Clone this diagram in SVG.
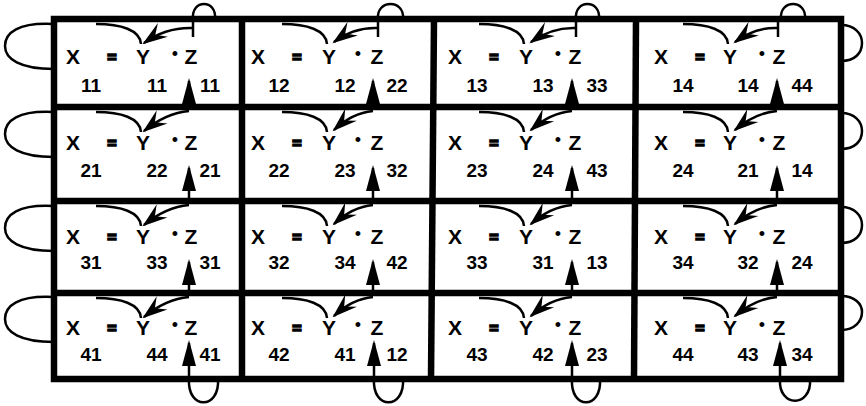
<svg xmlns="http://www.w3.org/2000/svg" width="866" height="406" viewBox="0 0 866 406">
<style>
.t{font-family:"Liberation Sans",Arial,sans-serif;font-weight:bold;font-size:21px;fill:#000;text-anchor:middle}
.s{font-family:"Liberation Sans",Arial,sans-serif;font-weight:bold;font-size:19px;fill:#000;text-anchor:middle}
.eq{font-size:16px;stroke:#000;stroke-width:1.6}
.d{font-family:"Liberation Sans",Arial,sans-serif;font-size:18px;fill:#000;text-anchor:middle}
.g{fill:none;stroke:#000;stroke-width:6.5}
.c{fill:none;stroke:#000;stroke-width:2.5}
.ya{marker-end:url(#ya)}
.ua{marker-end:url(#ua)}
</style>
<defs>
<marker id="ya" markerUnits="userSpaceOnUse" viewBox="-27 -10 30 20" markerWidth="30" markerHeight="20" refX="-2" refY="0" orient="auto">
<path d="M0,0 L-25,-9 L-16,0 L-25,8 Z" fill="#000"/>
</marker>
<marker id="ua" markerUnits="userSpaceOnUse" viewBox="-27 -8 30 16" markerWidth="30" markerHeight="16" refX="-3" refY="0" orient="auto">
<path d="M0,0 L-26,-7 L-26,7 Z" fill="#000"/>
</marker>
</defs>
<rect x="0" y="0" width="866" height="406" fill="#fff"/>
<g id="grid">
<rect class="g" x="54" y="19" width="787" height="360"/>
<line class="g" x1="242" y1="19" x2="242" y2="379"/>
<line class="g" x1="434" y1="19" x2="431" y2="379"/>
<line class="g" x1="636" y1="19" x2="634" y2="379"/>
<line class="g" x1="54" y1="107" x2="841" y2="107"/>
<line class="g" x1="54" y1="201" x2="841" y2="201"/>
<line class="g" x1="54" y1="293" x2="841" y2="293"/>
</g>
<g id="connectors">
<!-- left loops -->
<path class="c" d="M54,24 C18,22 5,33 5,46 C5,59 20,69 54,69"/>
<path class="c" d="M54,112 C18,110 5,121 5,134 C5,147 20,157 54,157"/>
<path class="c" d="M54,206 C18,204 5,215 5,228 C5,241 20,251 54,251"/>
<path class="c" d="M54,297 C18,295 5,306 5,319 C5,332 20,342 54,342"/>
<!-- right loops -->
<path class="c" d="M841,25 C855,25 862,34 862,43 C862,53 855,61 841,61"/>
<path class="c" d="M841,113 C855,113 862,122 862,131 C862,141 855,149 841,149"/>
<path class="c" d="M841,207 C855,207 862,216 862,225 C862,235 855,243 841,243"/>
<path class="c" d="M841,296 C855,296 862,304 862,312 C862,321 855,330 841,330"/>
<!-- top loops and stubs -->
<path class="c" d="M193,19 C191,-1 217,-1 215,19"/>
<path class="c" d="M378,19 C376,-1 405,-1 403,19"/>
<path class="c" d="M576,19 C574,-1 601,-1 599,19"/>
<path class="c" d="M781,19 C779,-1 807,-1 805,19"/>
<path class="c" d="M193,19 L193,37"/>
<path class="c" d="M378,19 L378,37"/>
<path class="c" d="M576,19 L576,37"/>
<path class="c" d="M778,19 L778,37"/>
<!-- bottom loops -->
<path class="c" d="M189,379 C187,410 220,410 218,379"/>
<path class="c" d="M374,379 C372,410 405,410 403,379"/>
<path class="c" d="M572,379 C570,410 602,410 600,379"/>
<path class="c" d="M780,379 C778,408 812,408 810,379"/>
<!-- Y tails -->
<path class="c" d="M96,24 C121,24 140,30 141,44"/>
<path class="c" d="M282,24 C307,24 326,30 327,44"/>
<path class="c" d="M479,24 C504,24 523,30 524,44"/>
<path class="c" d="M683,24 C708,24 727,30 728,44"/>
<path class="c" d="M96,112 C121,112 140,118 141,132"/>
<path class="c" d="M282,112 C307,112 326,118 327,132"/>
<path class="c" d="M479,112 C504,112 523,118 524,132"/>
<path class="c" d="M683,112 C708,112 727,118 728,132"/>
<path class="c" d="M96,206 C121,206 140,212 141,226"/>
<path class="c" d="M282,206 C307,206 326,212 327,226"/>
<path class="c" d="M479,206 C504,206 523,212 524,226"/>
<path class="c" d="M683,206 C708,206 727,212 728,226"/>
<path class="c" d="M96,298 C121,298 140,304 141,318"/>
<path class="c" d="M282,298 C307,298 326,304 327,318"/>
<path class="c" d="M479,298 C504,298 523,304 524,318"/>
<path class="c" d="M683,298 C708,298 727,304 728,318"/>
<!-- Y arrows -->
<path class="c ya" d="M193,28 Q166,27 144,43"/>
<path class="c ya" d="M378,28 Q354,27 334,42"/>
<path class="c ya" d="M576,28 Q552,27 531,42"/>
<path class="c ya" d="M778,28 Q755,27 735,42"/>
<path class="c ya" d="M189,111 Q166,113 144,131"/>
<path class="c ya" d="M373,111 Q352,113 334,130"/>
<path class="c ya" d="M572,111 Q550,113 531,130"/>
<path class="c ya" d="M777,111 Q755,113 735,130"/>
<path class="c ya" d="M189,205 Q166,207 144,225"/>
<path class="c ya" d="M373,205 Q352,207 334,224"/>
<path class="c ya" d="M572,205 Q550,207 531,224"/>
<path class="c ya" d="M777,205 Q755,207 735,224"/>
<path class="c ya" d="M189,297 Q166,299 144,317"/>
<path class="c ya" d="M373,297 Q352,299 334,316"/>
<path class="c ya" d="M572,297 Q550,299 531,316"/>
<path class="c ya" d="M777,297 Q755,299 735,316"/>
<!-- up arrows -->
<path class="c ua" d="M189,107 L189,81"/>
<path class="c ua" d="M373,107 L373,81"/>
<path class="c ua" d="M572,107 L572,81"/>
<path class="c ua" d="M777,107 L777,81"/>
<path class="c ua" d="M189,201 L189,168"/>
<path class="c ua" d="M373,201 L373,168"/>
<path class="c ua" d="M572,201 L572,168"/>
<path class="c ua" d="M777,201 L777,168"/>
<path class="c ua" d="M189,293 L189,262"/>
<path class="c ua" d="M373,293 L373,262"/>
<path class="c ua" d="M572,293 L572,262"/>
<path class="c ua" d="M777,293 L777,262"/>
<path class="c ua" d="M189,379 L189,343"/>
<path class="c ua" d="M374,379 L374,343"/>
<path class="c ua" d="M572,379 L572,343"/>
<path class="c ua" d="M780,379 L780,343"/>
</g>
<g id="cell11"><text class="t" x="73" y="64">X</text><text class="t eq" x="112" y="63">=</text><text class="t" x="143" y="64">Y</text><text class="d" x="175" y="60">•</text><text class="t" x="191" y="64">Z</text><text class="s" x="91" y="92">11</text><text class="s" x="157" y="92">11</text><text class="s" x="210" y="92">11</text></g>
<g id="cell12"><text class="t" x="258" y="64">X</text><text class="t eq" x="297" y="63">=</text><text class="t" x="329" y="64">Y</text><text class="d" x="358" y="60">•</text><text class="t" x="377" y="64">Z</text><text class="s" x="279" y="92">12</text><text class="s" x="345" y="92">12</text><text class="s" x="397" y="92">22</text></g>
<g id="cell13"><text class="t" x="455" y="64">X</text><text class="t eq" x="494" y="63">=</text><text class="t" x="526" y="64">Y</text><text class="d" x="558" y="60">•</text><text class="t" x="575" y="64">Z</text><text class="s" x="477" y="92">13</text><text class="s" x="543" y="92">13</text><text class="s" x="597" y="92">33</text></g>
<g id="cell14"><text class="t" x="661" y="64">X</text><text class="t eq" x="700" y="63">=</text><text class="t" x="730" y="64">Y</text><text class="d" x="762" y="60">•</text><text class="t" x="779" y="64">Z</text><text class="s" x="683" y="92">14</text><text class="s" x="748" y="92">14</text><text class="s" x="802" y="92">44</text></g>
<g id="cell21"><text class="t" x="73" y="150">X</text><text class="t eq" x="112" y="149">=</text><text class="t" x="143" y="150">Y</text><text class="d" x="175" y="146">•</text><text class="t" x="191" y="150">Z</text><text class="s" x="91" y="177">21</text><text class="s" x="157" y="177">22</text><text class="s" x="210" y="177">21</text></g>
<g id="cell22"><text class="t" x="258" y="150">X</text><text class="t eq" x="297" y="149">=</text><text class="t" x="329" y="150">Y</text><text class="d" x="358" y="146">•</text><text class="t" x="377" y="150">Z</text><text class="s" x="279" y="177">22</text><text class="s" x="345" y="177">23</text><text class="s" x="397" y="177">32</text></g>
<g id="cell23"><text class="t" x="455" y="150">X</text><text class="t eq" x="494" y="149">=</text><text class="t" x="526" y="150">Y</text><text class="d" x="558" y="146">•</text><text class="t" x="575" y="150">Z</text><text class="s" x="477" y="177">23</text><text class="s" x="543" y="177">24</text><text class="s" x="597" y="177">43</text></g>
<g id="cell24"><text class="t" x="661" y="150">X</text><text class="t eq" x="700" y="149">=</text><text class="t" x="730" y="150">Y</text><text class="d" x="762" y="146">•</text><text class="t" x="779" y="150">Z</text><text class="s" x="683" y="177">24</text><text class="s" x="748" y="177">21</text><text class="s" x="802" y="177">14</text></g>
<g id="cell31"><text class="t" x="73" y="244">X</text><text class="t eq" x="112" y="243">=</text><text class="t" x="143" y="244">Y</text><text class="d" x="175" y="240">•</text><text class="t" x="191" y="244">Z</text><text class="s" x="91" y="269">31</text><text class="s" x="157" y="269">33</text><text class="s" x="210" y="269">31</text></g>
<g id="cell32"><text class="t" x="258" y="244">X</text><text class="t eq" x="297" y="243">=</text><text class="t" x="329" y="244">Y</text><text class="d" x="358" y="240">•</text><text class="t" x="377" y="244">Z</text><text class="s" x="279" y="269">32</text><text class="s" x="345" y="269">34</text><text class="s" x="397" y="269">42</text></g>
<g id="cell33"><text class="t" x="455" y="244">X</text><text class="t eq" x="494" y="243">=</text><text class="t" x="526" y="244">Y</text><text class="d" x="558" y="240">•</text><text class="t" x="575" y="244">Z</text><text class="s" x="477" y="269">33</text><text class="s" x="543" y="269">31</text><text class="s" x="597" y="269">13</text></g>
<g id="cell34"><text class="t" x="661" y="244">X</text><text class="t eq" x="700" y="243">=</text><text class="t" x="730" y="244">Y</text><text class="d" x="762" y="240">•</text><text class="t" x="779" y="244">Z</text><text class="s" x="683" y="269">34</text><text class="s" x="748" y="269">32</text><text class="s" x="802" y="269">24</text></g>
<g id="cell41"><text class="t" x="73" y="335">X</text><text class="t eq" x="112" y="334">=</text><text class="t" x="143" y="335">Y</text><text class="d" x="175" y="331">•</text><text class="t" x="191" y="335">Z</text><text class="s" x="91" y="361">41</text><text class="s" x="157" y="361">44</text><text class="s" x="210" y="361">41</text></g>
<g id="cell42"><text class="t" x="258" y="335">X</text><text class="t eq" x="297" y="334">=</text><text class="t" x="329" y="335">Y</text><text class="d" x="358" y="331">•</text><text class="t" x="377" y="335">Z</text><text class="s" x="279" y="361">42</text><text class="s" x="345" y="361">41</text><text class="s" x="397" y="361">12</text></g>
<g id="cell43"><text class="t" x="455" y="335">X</text><text class="t eq" x="494" y="334">=</text><text class="t" x="526" y="335">Y</text><text class="d" x="558" y="331">•</text><text class="t" x="575" y="335">Z</text><text class="s" x="477" y="361">43</text><text class="s" x="543" y="361">42</text><text class="s" x="597" y="361">23</text></g>
<g id="cell44"><text class="t" x="661" y="335">X</text><text class="t eq" x="700" y="334">=</text><text class="t" x="730" y="335">Y</text><text class="d" x="762" y="331">•</text><text class="t" x="779" y="335">Z</text><text class="s" x="683" y="361">44</text><text class="s" x="748" y="361">43</text><text class="s" x="802" y="361">34</text></g>
</svg>
